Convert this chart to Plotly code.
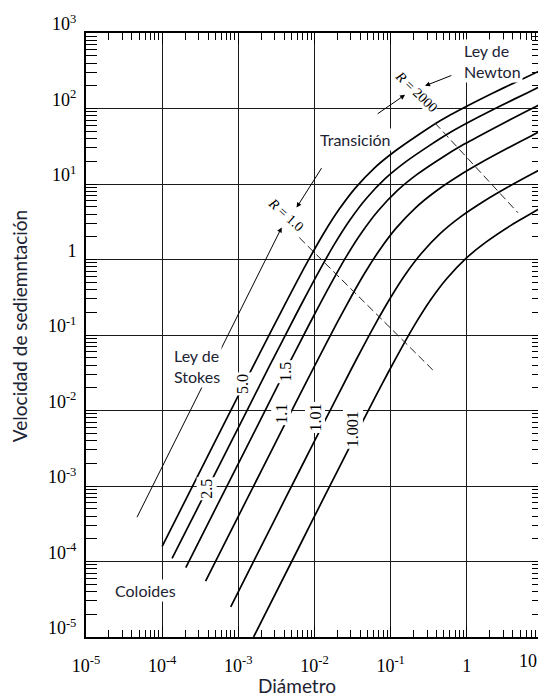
import plotly.graph_objects as go

# ---------------- data (log10 values) ----------------
# diameter d in log10 units, settling velocity v in log10 units
gravedades = ["5.0", "2.5", "1.5", "1.1", "1.01", "1.001"]

logd_50 = [-4.00, -3.399, -3.065, -2.731, -2.393, -2.230, -2.047, -1.874, -1.670, -1.465,
           -1.211, -0.950, -0.639, -0.340, -0.002, 0.310, 0.655, 1.00]
logv_50 = [-3.80, -2.597, -1.931, -1.265, -0.603, -0.289, 0.051, 0.355, 0.674, 0.946,
           1.215, 1.431, 1.650, 1.845, 2.030, 2.190, 2.355, 2.52]

logd_25 = [-3.87, -3.257, -2.923, -2.589, -2.251, -2.088, -1.905, -1.732, -1.528, -1.323,
           -1.069, -0.808, -0.497, -0.198, 0.140, 0.452, 0.797, 1.00]
logv_25 = [-3.96, -2.739, -2.073, -1.407, -0.745, -0.431, -0.091, 0.213, 0.532, 0.804,
           1.073, 1.289, 1.505, 1.695, 1.880, 2.040, 2.210, 2.31]

logd_15 = [-3.69, -3.098, -2.764, -2.430, -2.092, -1.929, -1.746, -1.573, -1.369, -1.164,
           -0.910, -0.649, -0.338, -0.039, 0.299, 0.611, 0.956, 1.00]
logv_15 = [-4.08, -2.898, -2.232, -1.566, -0.904, -0.590, -0.250, 0.054, 0.373, 0.645,
           0.914, 1.130, 1.342, 1.525, 1.710, 1.875, 2.050, 2.07]

logd_11 = [-3.43, -2.865, -2.531, -2.197, -1.859, -1.696, -1.513, -1.340, -1.136, -0.931,
           -0.677, -0.416, -0.105, 0.194, 0.532, 0.844, 1.00]
logv_11 = [-4.26, -3.131, -2.465, -1.799, -1.137, -0.823, -0.483, -0.179, 0.140, 0.412,
           0.681, 0.897, 1.109, 1.287, 1.472, 1.637, 1.72]

logd_101 = [-3.10, -2.532, -2.198, -1.863, -1.526, -1.363, -1.180, -1.006, -0.803, -0.598,
            -0.344, -0.083, 0.229, 0.528, 0.865, 1.00]
logv_101 = [-4.60, -3.464, -2.798, -2.133, -1.470, -1.156, -0.816, -0.513, -0.193, 0.079,
            0.348, 0.564, 0.775, 0.953, 1.139, 1.21]

logd_1001 = [-2.80, -2.198, -1.865, -1.530, -1.193, -1.029, -0.846, -0.673, -0.470, -0.265,
             -0.011, 0.251, 0.562, 0.861, 1.00]
logv_1001 = [-5.00, -3.798, -3.131, -2.466, -1.803, -1.490, -1.150, -0.846, -0.526, -0.254,
             0.015, 0.230, 0.442, 0.620, 0.70]

# Reynolds number limit lines
logd_R1 = [-2.20, -0.44]
logv_R1 = [0.29, -1.47]
logd_R2000 = [-0.42, 0.67]
logv_R2000 = [1.81, 0.62]

# tick labels
x_tick_exp = [-5, -4, -3, -2, -1, 0]
x_tick_text = ["10<sup>-5</sup>", "10<sup>-4</sup>", "10<sup>-3</sup>", "10<sup>-2</sup>",
               "10<sup>-1</sup>", "1"]
x_last_exp = [1]
x_last_text = ["10"]
y_tick_exp = [3, 2, 1, 0, -1, -2, -3, -4, -5]
y_tick_text = ["10<sup>3</sup>", "10<sup>2</sup>", "10<sup>1</sup>", "1", "10<sup>-1</sup>",
               "10<sup>-2</sup>", "10<sup>-3</sup>", "10<sup>-4</sup>", "10<sup>-5</sup>"]

curvas = [(logd_50, logv_50), (logd_25, logv_25), (logd_15, logv_15),
          (logd_11, logv_11), (logd_101, logv_101), (logd_1001, logv_1001)]


def p10(vals):
    return [10 ** v for v in vals]


fig = go.Figure()
for name, (ld, lv) in zip(gravedades, curvas):
    fig.add_trace(go.Scatter(x=p10(ld), y=p10(lv), mode="lines", name=name,
                             line=dict(color="black", width=1.7, shape="spline", smoothing=0.6),
                             showlegend=False, hoverinfo="skip"))

fig.add_trace(go.Scatter(x=p10(logd_R1), y=p10(logv_R1), mode="lines",
                         line=dict(color="#222", width=1, dash="8px,4px"),
                         showlegend=False, hoverinfo="skip"))
# R = 2000 line sits on the twin x axis that carries the last tick label
fig.add_trace(go.Scatter(x=p10(logd_R2000), y=p10(logv_R2000), mode="lines", xaxis="x2",
                         line=dict(color="#222", width=1, dash="8px,4px"),
                         showlegend=False, hoverinfo="skip"))

txt_col = "#1c2333"
ann = []
# curve labels
lab_pos = {"5.0": (-2.954, -1.650), "2.5": (-3.412, -3.037), "1.5": (-2.392, -1.491),
           "1.1": (-2.431, -2.046), "1.01": (-1.987, -2.086), "1.001": (-1.490, -2.244)}
for g in gravedades:
    x, y = lab_pos[g]
    ann.append(dict(x=x, y=y, xref="x", yref="y", text=g, showarrow=False, textangle=-90,
                    xanchor="center", yanchor="middle",
                    font=dict(family="Liberation Serif", size=16, color="black"),
                    bgcolor="white", borderpad=1))

# arrows (head, tail)
arrows = [((-2.431, 0.424), (-4.340, -3.433)),
          ((-2.235, 0.688), (-1.895, 1.230)),
          ((-0.811, 2.181), (-1.190, 1.917)),
          ((-0.549, 2.300), (-0.183, 2.445))]
for (hx, hy), (tx, ty) in arrows:
    ann.append(dict(x=hx, y=hy, ax=tx, ay=ty, xref="x", yref="y", axref="x", ayref="y",
                    text="", showarrow=True, arrowhead=2, arrowsize=1, arrowwidth=1,
                    arrowcolor="black"))

# region texts
regiones = [
    dict(x=-3.543, y=-1.412, text="Ley de<br>Stokes", align="left", xanchor="center"),
    dict(x=-4.222, y=-4.384, text="Coloides", xanchor="center"),
    dict(x=-1.464, y=1.587, text="Transición", xanchor="center"),
    dict(x=-0.07, y=2.63, text="Ley de<br>Newton", align="left", xanchor="left"),
]
for a in regiones:
    a.update(xref="x", yref="y", showarrow=False, bgcolor="white", borderpad=1,
             yanchor="middle", font=dict(family="Lato", size=16, color=txt_col))
ann += regiones

# R labels
ann += [
    dict(x=-0.667, y=2.221, xref="x", yref="y", text="<i>R</i> = 2000", showarrow=False,
         textangle=44, xanchor="center", yanchor="middle",
         font=dict(family="Liberation Serif", size=14, color="black"),
         bgcolor="white", borderpad=0),
    dict(x=-2.379, y=0.596, xref="x", yref="y", text="<i>R</i> = 1.0", showarrow=False,
         textangle=42, xanchor="center", yanchor="middle",
         font=dict(family="Liberation Serif", size=14, color="black"),
         bgcolor="white", borderpad=0),
]

# axis titles
ann += [
    dict(x=-0.144, y=0.515, xref="paper", yref="paper", text="Velocidad de sediemntación",
         textangle=-90, showarrow=False, xanchor="center", yanchor="middle",
         font=dict(family="Lato", size=19, color=txt_col)),
    dict(x=0.462, y=-0.081, xref="paper", yref="paper", text="Diámetro",
         showarrow=False, xanchor="center", yanchor="middle",
         font=dict(family="Lato", size=19, color=txt_col)),
]

minor_vals = [k * 10 ** e for e in range(-5, 3) for k in range(2, 10)]
tick_font = dict(family="Liberation Serif", size=18, color="black")

axis_common = dict(type="log", showgrid=True, gridcolor="#1a1a1a", gridwidth=1.1,
                   ticks="inside", ticklen=11, tickwidth=1.3, tickcolor="black",
                   showline=True, linecolor="black", linewidth=2, mirror="allticks",
                   zeroline=False, ticklabeloverflow="allow", automargin=False,
                   tickfont=tick_font,
                   minor=dict(ticks="inside", ticklen=7, tickwidth=1.1, tickcolor="black",
                              tickvals=minor_vals, showgrid=False))

# the page body adds an 8 px offset; margins compensate so the plot area sits at
# x 86-543, y 33-637 of the window
fig.update_layout(
    width=546, height=698,
    margin=dict(l=78, r=11, t=25, b=69),
    paper_bgcolor="white", plot_bgcolor="white",
    xaxis=dict(axis_common, range=[-5, 1], tickvals=p10(x_tick_exp), ticktext=x_tick_text,
               ticklabelstandoff=11),
    xaxis2=dict(type="log", range=[-5, 1], overlaying="x", side="bottom", showgrid=False,
                showline=False, zeroline=False, ticks="", tickvals=p10(x_last_exp),
                ticktext=x_last_text, tickfont=tick_font, ticklabelstandoff=11,
                ticklabelshift=-15, automargin=False, ticklabeloverflow="allow"),
    yaxis=dict(axis_common, range=[-5, 3], tickvals=p10(y_tick_exp), ticktext=y_tick_text,
               ticklabelstandoff=4, ticklabelshift=-9),
    annotations=ann,
)

fig.write_html("out.html")
